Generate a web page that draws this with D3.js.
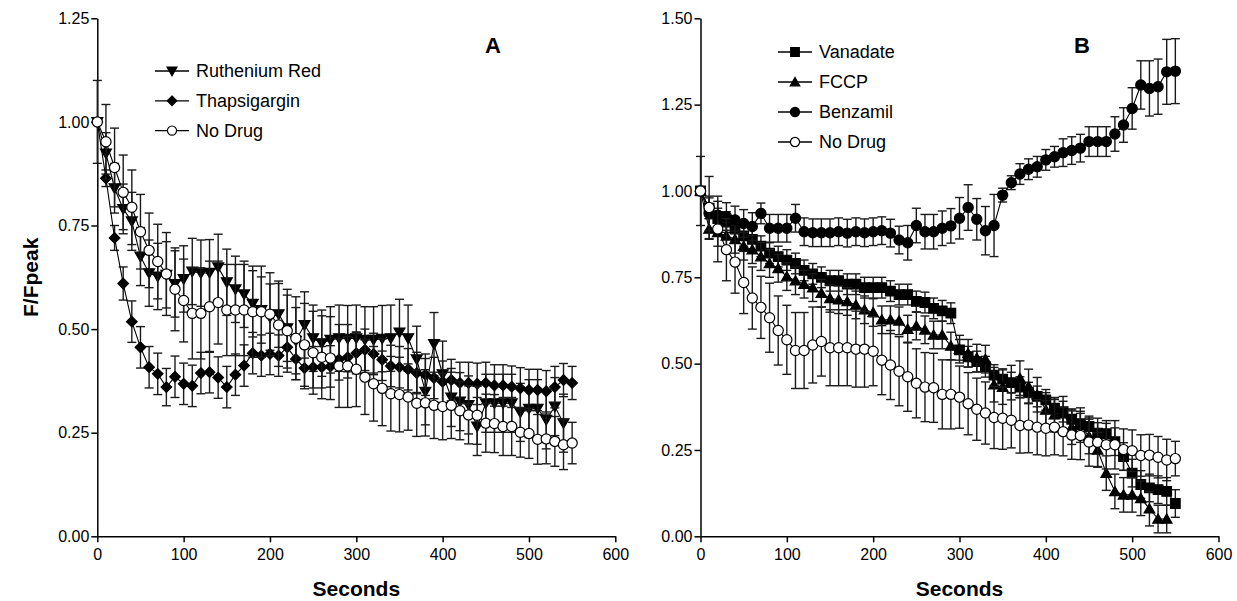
<!DOCTYPE html>
<html>
<head>
<meta charset="utf-8">
<script src="https://cdn.jsdelivr.net/npm/d3@7"></script>
<style>
  body { margin: 0; background: #fff; }
  svg { font-family: "Liberation Sans", Arial, sans-serif; }
</style>
</head>
<body>
<div class="chart"></div>
<script>
// time points (seconds)
const seconds = [0, 10, 20, 30, 40, 50, 60, 70, 80, 90, 100, 110, 120, 130, 140, 150, 160, 170, 180, 190,
  200, 210, 220, 230, 240, 250, 260, 270, 280, 290, 300, 310, 320, 330, 340, 350, 360, 370, 380, 390,
  400, 410, 420, 430, 440, 450, 460, 470, 480, 490, 500, 510, 520, 530, 540, 550];

const xTicks = [0, 100, 200, 300, 400, 500, 600];
const yTicksA = [0, 0.25, 0.5, 0.75, 1.0, 1.25];
const yTicksB = [0, 0.25, 0.5, 0.75, 1.0, 1.25, 1.5];

// Panel A
const rutheniumRed = [1.00, 0.924, 0.84, 0.79, 0.76, 0.675, 0.635, 0.627, 0.631, 0.609, 0.621, 0.639, 0.635, 0.636,
  0.649, 0.613, 0.596, 0.584, 0.561, 0.546, 0.529, 0.536, 0.502, 0.472, 0.51, 0.478, 0.466, 0.474, 0.478, 0.477,
  0.478, 0.474, 0.474, 0.477, 0.478, 0.492, 0.478, 0.427, 0.349, 0.464, 0.391, 0.335, 0.325, 0.317, 0.265, 0.321,
  0.321, 0.321, 0.321, 0.299, 0.308, 0.308, 0.281, 0.313, 0.273];
const rutheniumErr = [0.0, 0.05, 0.06, 0.06, 0.07, 0.07, 0.08, 0.08, 0.08, 0.08, 0.08, 0.08, 0.08, 0.08,
  0.08, 0.08, 0.08, 0.08, 0.08, 0.08, 0.08, 0.08, 0.08, 0.08, 0.08, 0.08, 0.08, 0.08, 0.08, 0.08,
  0.08, 0.08, 0.08, 0.08, 0.08, 0.08, 0.08, 0.08, 0.08, 0.076, 0.08, 0.07, 0.07, 0.07, 0.07, 0.07,
  0.07, 0.07, 0.07, 0.07, 0.07, 0.07, 0.07, 0.07, 0.07];

const thapsigargin = [1.0, 0.864, 0.72, 0.61, 0.518, 0.456, 0.408, 0.392, 0.36, 0.385, 0.368, 0.363, 0.394, 0.396,
  0.383, 0.36, 0.39, 0.412, 0.442, 0.436, 0.44, 0.436, 0.456, 0.428, 0.406, 0.408, 0.408, 0.41, 0.427, 0.432,
  0.442, 0.45, 0.44, 0.426, 0.411, 0.408, 0.403, 0.394, 0.39, 0.382, 0.373, 0.377, 0.37, 0.37, 0.368, 0.37,
  0.364, 0.364, 0.361, 0.357, 0.353, 0.353, 0.35, 0.36, 0.377, 0.37];
const thapsigarginErr = [0.0, 0.02, 0.03, 0.04, 0.05, 0.05, 0.05, 0.05, 0.045, 0.05, 0.05, 0.05, 0.05, 0.05,
  0.05, 0.05, 0.05, 0.05, 0.05, 0.05, 0.05, 0.05, 0.05, 0.05, 0.05, 0.05, 0.05, 0.05, 0.05, 0.05,
  0.05, 0.05, 0.05, 0.05, 0.05, 0.05, 0.05, 0.05, 0.05, 0.05, 0.05, 0.05, 0.05, 0.05, 0.05, 0.05,
  0.05, 0.05, 0.05, 0.05, 0.05, 0.05, 0.05, 0.05, 0.04, 0.04];

// control, shared by both panels
const noDrug = [1.0, 0.952, 0.89, 0.83, 0.794, 0.735, 0.69, 0.663, 0.633, 0.596, 0.569, 0.538, 0.538, 0.554,
  0.564, 0.546, 0.546, 0.546, 0.542, 0.542, 0.536, 0.51, 0.496, 0.478, 0.462, 0.443, 0.432, 0.43, 0.411, 0.411,
  0.403, 0.384, 0.368, 0.357, 0.344, 0.342, 0.336, 0.321, 0.322, 0.316, 0.313, 0.316, 0.303, 0.293, 0.292, 0.273,
  0.272, 0.265, 0.265, 0.251, 0.248, 0.234, 0.235, 0.229, 0.221, 0.225];
const noDrugErr = [0.10, 0.09, 0.095, 0.09, 0.09, 0.09, 0.09, 0.09, 0.10, 0.10, 0.10, 0.11, 0.11, 0.11,
  0.10, 0.11, 0.11, 0.11, 0.11, 0.11, 0.10, 0.10, 0.10, 0.10, 0.10, 0.10, 0.10, 0.10, 0.10, 0.10,
  0.09, 0.09, 0.09, 0.09, 0.09, 0.09, 0.08, 0.08, 0.08, 0.08, 0.08, 0.08, 0.07, 0.07, 0.07, 0.07,
  0.07, 0.07, 0.07, 0.06, 0.06, 0.06, 0.06, 0.06, 0.06, 0.05];

// Panel B
const vanadate = [1.0, 0.95, 0.92, 0.91, 0.89, 0.87, 0.86, 0.84, 0.82, 0.81, 0.80, 0.79, 0.77, 0.76,
  0.75, 0.74, 0.74, 0.73, 0.73, 0.72, 0.72, 0.72, 0.71, 0.70, 0.70, 0.68, 0.677, 0.66, 0.653, 0.646,
  0.54, 0.52, 0.506, 0.491, 0.467, 0.455, 0.445, 0.432, 0.416, 0.405, 0.395, 0.371, 0.361, 0.339, 0.326, 0.318,
  0.299, 0.297, 0.274, 0.231, 0.183, 0.15, 0.14, 0.135, 0.13, 0.095];
const vanadateErr = [0.0, 0.03, 0.03, 0.03, 0.03, 0.03, 0.03, 0.03, 0.03, 0.03, 0.03, 0.03, 0.03, 0.03,
  0.03, 0.03, 0.03, 0.03, 0.03, 0.03, 0.03, 0.03, 0.03, 0.03, 0.03, 0.03, 0.03, 0.03, 0.03, 0.03,
  0.03, 0.03, 0.03, 0.03, 0.03, 0.03, 0.03, 0.03, 0.03, 0.03, 0.03, 0.03, 0.03, 0.03, 0.03, 0.03,
  0.03, 0.03, 0.04, 0.04, 0.04, 0.04, 0.04, 0.04, 0.04, 0.04];

const fccp = [1.0, 0.89, 0.88, 0.87, 0.86, 0.84, 0.83, 0.81, 0.79, 0.776, 0.752, 0.74, 0.73, 0.72,
  0.704, 0.689, 0.685, 0.68, 0.67, 0.656, 0.648, 0.627, 0.627, 0.624, 0.60, 0.609, 0.598, 0.583, 0.583, 0.551,
  0.542, 0.53, 0.516, 0.513, 0.439, 0.432, 0.445, 0.458, 0.434, 0.41, 0.366, 0.352, 0.355, 0.316, 0.322, 0.289,
  0.25, 0.183, 0.13, 0.12, 0.12, 0.11, 0.08, 0.05, 0.05];
const fccpErr = [0.0, 0.03, 0.04, 0.04, 0.04, 0.04, 0.04, 0.04, 0.04, 0.04, 0.04, 0.04, 0.04, 0.04,
  0.04, 0.04, 0.04, 0.04, 0.04, 0.04, 0.04, 0.04, 0.04, 0.04, 0.04, 0.04, 0.04, 0.04, 0.04, 0.04,
  0.04, 0.04, 0.04, 0.04, 0.05, 0.05, 0.05, 0.05, 0.05, 0.05, 0.05, 0.05, 0.05, 0.05, 0.05, 0.05,
  0.05, 0.05, 0.05, 0.05, 0.05, 0.05, 0.05, 0.04, 0.04];

const benzamil = [1.0, 0.935, 0.93, 0.926, 0.916, 0.906, 0.897, 0.935, 0.892, 0.892, 0.892, 0.921, 0.882, 0.879,
  0.879, 0.879, 0.882, 0.878, 0.882, 0.879, 0.882, 0.885, 0.878, 0.858, 0.85, 0.90, 0.882, 0.882, 0.892, 0.899,
  0.921, 0.952, 0.918, 0.885, 0.90, 0.988, 1.024, 1.049, 1.063, 1.07, 1.09, 1.099, 1.111, 1.117, 1.124, 1.143,
  1.143, 1.143, 1.165, 1.191, 1.239, 1.307, 1.297, 1.302, 1.345, 1.347];
const benzamilErr = [0.0, 0.05, 0.04, 0.04, 0.04, 0.04, 0.04, 0.03, 0.04, 0.04, 0.04, 0.04, 0.04, 0.04,
  0.04, 0.04, 0.04, 0.04, 0.04, 0.04, 0.04, 0.04, 0.04, 0.04, 0.05, 0.05, 0.05, 0.05, 0.05, 0.05,
  0.06, 0.066, 0.06, 0.07, 0.09, 0.02, 0.02, 0.03, 0.03, 0.03, 0.03, 0.03, 0.04, 0.04, 0.04, 0.043,
  0.043, 0.043, 0.05, 0.05, 0.06, 0.07, 0.08, 0.08, 0.094, 0.094];

// drawing setup
const W = 1237, H = 601;
const plotSize = 518;

const svg = d3.select(".chart")
  .append("svg")
  .attr("width", W)
  .attr("height", H);

// marker shapes
function markerPath(shape, r) {
  if (shape === "triangleDown") return "M" + (-r) + "," + (-r * 0.8) + "L" + r + "," + (-r * 0.8) + "L0," + (r * 0.95) + "Z";
  if (shape === "triangleUp") return "M" + (-r) + "," + (r * 0.8) + "L" + r + "," + (r * 0.8) + "L0," + (-r * 0.95) + "Z";
  if (shape === "diamond") return "M0," + (-r) + "L" + r + ",0L0," + r + "L" + (-r) + ",0Z";
  if (shape === "square") return "M" + (-r) + "," + (-r) + "H" + r + "V" + r + "H" + (-r) + "Z";
  return d3.arc()({ innerRadius: 0, outerRadius: r, startAngle: 0, endAngle: 2 * Math.PI });
}

function makeSeries(name, values, errs, shape, fill, r) {
  return {
    name: name, shape: shape, fill: fill, r: r,
    points: values.map(function (v, i) { return { t: seconds[i], v: v, e: errs[i] }; })
  };
}

function drawPanel(cfg) {
  const g = svg.append("g").attr("transform", "translate(" + cfg.left + "," + cfg.top + ")");

  const x = d3.scaleLinear().domain([0, 600]).range([0, plotSize]);
  const y = d3.scaleLinear().domain([0, cfg.yMax]).range([plotSize, 0]);

  // axes
  const xAxis = g.append("g")
    .attr("transform", "translate(0," + plotSize + ")")
    .call(d3.axisBottom(x).tickValues(xTicks).tickSize(6).tickSizeOuter(0).tickFormat(d3.format("d")));
  const yAxis = g.append("g")
    .call(d3.axisLeft(y).tickValues(cfg.yTicks).tickSize(6).tickSizeOuter(0).tickFormat(d3.format(".2f")));

  [xAxis, yAxis].forEach(function (a) {
    a.select(".domain").attr("stroke", "#000").attr("stroke-width", 1.5);
    a.selectAll(".tick line").attr("stroke", "#000").attr("stroke-width", 1.5);
    a.selectAll("text").attr("fill", "#000").style("font-size", "16px");
  });
  xAxis.selectAll("text").attr("dy", "0.95em");
  yAxis.selectAll("text").attr("x", -8);

  // series
  cfg.series.forEach(function (s) {
    const sg = g.append("g");
    const cap = 4.5;

    const bars = sg.selectAll(".err")
      .data(s.points.filter(function (d) { return d.e > 0; }))
      .enter().append("g")
      .attr("stroke", "#1a1a1a")
      .attr("stroke-width", 1.4);
    bars.append("line")
      .attr("x1", function (d) { return x(d.t); })
      .attr("x2", function (d) { return x(d.t); })
      .attr("y1", function (d) { return y(d.v + d.e); })
      .attr("y2", function (d) { return y(d.v - d.e); });
    bars.append("line")
      .attr("x1", function (d) { return x(d.t) - cap; })
      .attr("x2", function (d) { return x(d.t) + cap; })
      .attr("y1", function (d) { return y(d.v + d.e); })
      .attr("y2", function (d) { return y(d.v + d.e); });
    bars.append("line")
      .attr("x1", function (d) { return x(d.t) - cap; })
      .attr("x2", function (d) { return x(d.t) + cap; })
      .attr("y1", function (d) { return y(d.v - d.e); })
      .attr("y2", function (d) { return y(d.v - d.e); });

    sg.append("path")
      .datum(s.points)
      .attr("fill", "none")
      .attr("stroke", "#000")
      .attr("stroke-width", 1.1)
      .attr("d", d3.line().x(function (d) { return x(d.t); }).y(function (d) { return y(d.v); }));

    sg.selectAll(".mk")
      .data(s.points)
      .enter().append("path")
      .attr("transform", function (d) { return "translate(" + x(d.t) + "," + y(d.v) + ")"; })
      .attr("d", markerPath(s.shape, s.r))
      .attr("fill", s.fill)
      .attr("stroke", "#000")
      .attr("stroke-width", 1.2);
  });

  // legend
  const lg = svg.append("g").attr("transform", "translate(" + cfg.legendX + "," + cfg.legendY + ")");
  cfg.series.forEach(function (s, i) {
    const row = lg.append("g").attr("transform", "translate(0," + (i * cfg.legendStep) + ")");
    row.append("line").attr("x1", 0).attr("x2", 34).attr("stroke", "#000").attr("stroke-width", 1.3);
    row.append("path").attr("transform", "translate(17,0)")
      .attr("d", markerPath(s.shape, s.r * 0.9))
      .attr("fill", s.fill).attr("stroke", "#000").attr("stroke-width", 1.2);
    row.append("text").attr("x", 41).attr("dy", "0.35em")
      .style("font-size", "18px").attr("fill", "#000").text(s.name);
  });

  // panel letter
  svg.append("text")
    .attr("x", cfg.letterX).attr("y", cfg.letterY)
    .attr("text-anchor", "middle")
    .style("font-size", "22px").style("font-weight", "bold")
    .text(cfg.letter);

  // x title
  svg.append("text")
    .attr("x", cfg.left + plotSize / 2).attr("y", 596)
    .attr("text-anchor", "middle")
    .style("font-size", "21px").style("font-weight", "bold")
    .text("Seconds");
}

drawPanel({
  left: 97.3, top: 18.3, yMax: 1.25, yTicks: yTicksA,
  legendX: 155, legendY: 71, legendStep: 29.8,
  letter: "A", letterX: 493, letterY: 53,
  series: [
    makeSeries("Ruthenium Red", rutheniumRed, rutheniumErr, "triangleDown", "#000", 5.5),
    makeSeries("Thapsigargin", thapsigargin, thapsigarginErr, "diamond", "#000", 5.3),
    makeSeries("No Drug", noDrug, noDrugErr, "circle", "#fff", 5.1)
  ]
});

drawPanel({
  left: 700.5, top: 18.3, yMax: 1.5, yTicks: yTicksB,
  legendX: 778, legendY: 52, legendStep: 30,
  letter: "B", letterX: 1082, letterY: 53,
  series: [
    makeSeries("Vanadate", vanadate, vanadateErr, "square", "#000", 4.8),
    makeSeries("FCCP", fccp, fccpErr, "triangleUp", "#000", 5.3),
    makeSeries("Benzamil", benzamil, benzamilErr, "circle", "#000", 5.1),
    makeSeries("No Drug", noDrug, noDrugErr, "circle", "#fff", 5.1)
  ]
});

// y title, panel A only
svg.append("text")
  .attr("transform", "translate(38," + (18.3 + plotSize / 2) + ") rotate(-90)")
  .attr("text-anchor", "middle")
  .style("font-size", "21px").style("font-weight", "bold")
  .text("F/Fpeak");
</script>
</body>
</html>
